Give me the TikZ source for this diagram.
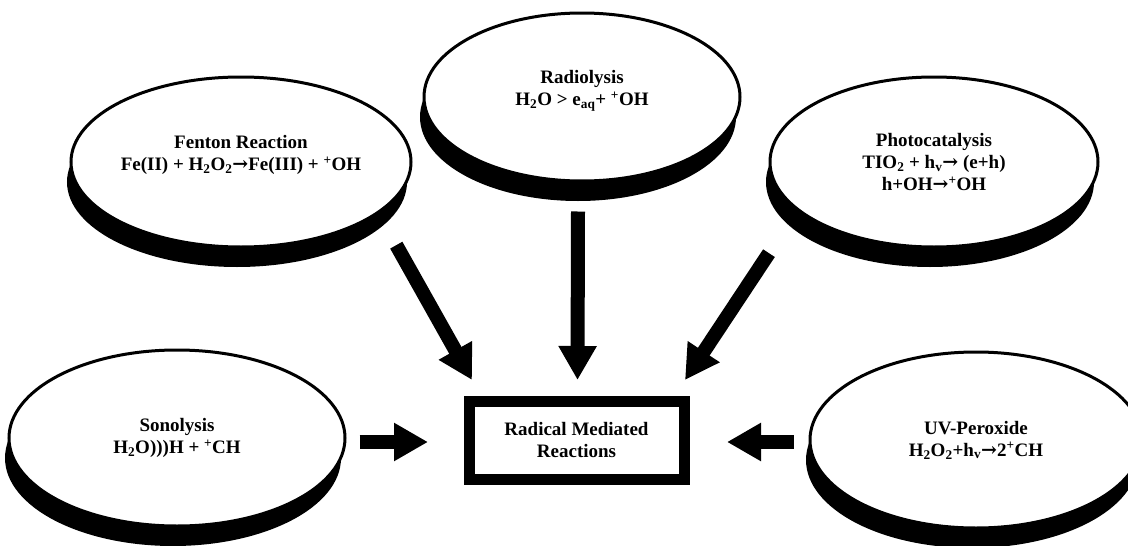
\documentclass[tikz,border=0pt]{standalone}
\usepackage{fontspec}
\setmainfont{Liberation Serif}
\newfontfamily\arrowfont{DejaVu Serif}
\newcommand{\ra}{{\arrowfont →}}
\usetikzlibrary{shapes.geometric,shadows,arrows.meta}
\begin{document}
\begin{tikzpicture}[x=1pt,y=-1pt,
  every node/.style={font=\bfseries\fontsize{19}{22}\selectfont,align=center},
  bubble/.style={ellipse,draw,line width=3pt,fill=white,inner sep=0pt,
    drop shadow={shadow xshift=-4pt,shadow yshift=-20pt,fill=black,opacity=1}},
  raised/.style={text depth=18pt},
  bigarrow/.style={line width=14pt,-{Triangle[width=36pt,length=34pt]}}]
\useasboundingbox (0,0) rectangle (1128,546);
\node[bubble,raised,minimum width=332pt,minimum height=170pt] (fenton) at (241,162) {Fenton Reaction\\Fe(II) + H\textsubscript{2}O\textsubscript{2}\ra Fe(III) + \textsuperscript{+}OH};
\node[bubble,raised,minimum width=316pt,minimum height=168pt] (radio) at (582,97) {Radiolysis\\H\textsubscript{2}O > e\textsubscript{aq}+ \textsuperscript{+}OH};
\node[bubble,minimum width=328pt,minimum height=170pt] (photo) at (934,162) {Photocatalysis\\TIO\textsubscript{2} + h\textsubscript{v}\ra\ (e+h)\\h+OH\ra\textsuperscript{+}OH};
\node[bubble,minimum width=336pt,minimum height=176pt] (sono) at (177,438) {Sonolysis\\H\textsubscript{2}O)))H + \textsuperscript{+}CH};
\node[bubble,minimum width=332pt,minimum height=176pt] (uv) at (976,440) {UV-Peroxide\\H\textsubscript{2}O\textsubscript{2}+h\textsubscript{v}\ra 2\textsuperscript{+}CH};
\node[draw,line width=11pt,minimum width=215pt,minimum height=78pt] (box) at (576.5,440) {Radical Mediated\\Reactions};
\draw[bigarrow] ([shift={(34,22)}]fenton.south east) -- ([shift={(8.5,-15.5)}]box.north west);
\draw[bigarrow] ([shift={(-4,29)}]radio.south) -- ([shift={(1,-15.5)}]box.north);
\draw[bigarrow] ([shift={(-48,30)}]photo.south west) -- ([shift={(-4.5,-15.5)}]box.north east);
\draw[bigarrow] ([shift={(13,4)}]sono.east) -- ([shift={(-35.5,2)}]box.west);
\draw[bigarrow] ([shift={(-15,2)}]uv.west) -- ([shift={(37.5,2)}]box.east);
\end{tikzpicture}
\end{document}
